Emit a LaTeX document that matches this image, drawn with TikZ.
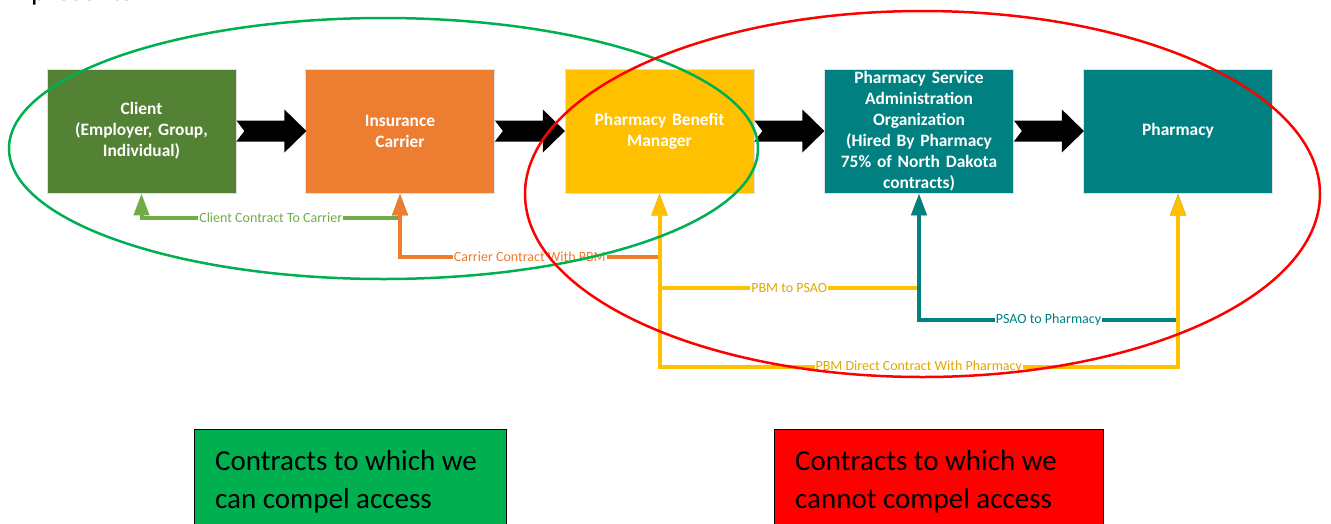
\documentclass[tikz,border=0pt]{standalone}
\usepackage{fontspec}
\setmainfont{Carlito}
\usetikzlibrary{arrows.meta}
\definecolor{cgreen}{HTML}{548235}
\definecolor{corange}{HTML}{ED7D31}
\definecolor{cgold}{HTML}{FFC000}
\definecolor{cteal}{HTML}{008080}
\definecolor{lgreen}{HTML}{70AD47}
\definecolor{egreen}{HTML}{00B050}
\definecolor{ered}{HTML}{FF0000}
\tikzset{
  ent/.style={minimum width=189pt, minimum height=124pt, inner sep=0pt, text width=182pt,
    align=center, text=white, draw=black!12, line width=0.8pt,
    font=\fontsize{17.4}{21}\selectfont\bfseries},
  conn/.style={line width=4pt, {Triangle[width=15pt,length=22pt]}-{Triangle[width=15pt,length=22pt]}},
  lbl/.style={fill=white, inner xsep=1pt, inner ysep=0pt, font=\fontsize{14}{14}\selectfont},
  ell/.style={line width=2.5pt},
  legbox/.style={draw=black, line width=1.2pt, anchor=north west, minimum width=312pt, minimum height=111pt, inner sep=0pt},
  legtext/.style={anchor=base west, inner sep=0pt, font=\fontsize{29}{38}\selectfont},
  barrow/.pic={\fill[black] (0,-10.5) -- (48,-10.5) -- (48,-21.5) -- (70,0) -- (48,21.5) -- (48,10.5) -- (0,10.5) -- (8,0) -- cycle;}
}
\begin{document}
\begin{tikzpicture}[x=1pt,y=-1pt]
\useasboundingbox (0,0) rectangle (1331,523);
\clip (0,0) rectangle (1331,523);
\fill[white] (0,0) rectangle (1331,523);

% cut-off heading text
\node[anchor=base west, inner sep=0pt, font=\fontsize{29}{38}\selectfont] (head) at (31,0.5) {presents};

% entity boxes
\node[ent, fill=cgreen] (client) at (141.5,131) {Client\\(Employer, Group,\\Individual)};
\node[ent, fill=corange] (carrier) at (400,131) {Insurance\\Carrier};
\node[ent, fill=cgold] (pbm) at (659.5,131) {Pharmacy Benefit\\Manager};
\node[ent, fill=cteal] (psao) at (919,131) {Pharmacy Service\\Administration\\Organization\\(Hired By Pharmacy\\75\% of North Dakota\\contracts)};
\node[ent, fill=cteal] (pharm) at (1178,131) {Pharmacy};

% block arrows
\pic at (client.east) {barrow};
\pic at (carrier.east) {barrow};
\pic at (pbm.east) {barrow};
\pic at (psao.east) {barrow};

% connector rows
\coordinate (yg) at (0,218);
\coordinate (yo) at (0,257);
\coordinate (yp) at (0,288);
\coordinate (yt) at (0,320);
\coordinate (yd) at (0,367);

\draw[conn, lgreen] (carrier.south) -- (carrier.south |- yg)
  -- node[lbl, text=lgreen] {Client Contract To Carrier} (client.south |- yg) -- (client.south);
\draw[conn, corange] (pbm.south) -- (pbm.south |- yo)
  -- node[lbl, text=corange] {Carrier Contract With PBM} (carrier.south |- yo) -- (carrier.south);
\draw[conn, cgold] (pbm.south) -- (pbm.south |- yp)
  -- node[lbl, text=cgold!88!black] {PBM to PSAO} (psao.south |- yp) -- (psao.south);
\draw[conn, cteal] (pharm.south) -- (pharm.south |- yt)
  -- node[lbl, text=cteal] {PSAO to Pharmacy} (psao.south |- yt) -- (psao.south);
\draw[conn, cgold] (pbm.south) -- (pbm.south |- yd)
  -- node[lbl, text=cgold!88!black] {PBM Direct Contract With Pharmacy} (pharm.south |- yd) -- (pharm.south);

% grouping ellipses
\draw[ell, egreen] (383.5,148.5) ellipse [x radius=374.5pt, y radius=130.5pt];
\draw[ell, ered] (922.5,194) ellipse [x radius=397.5pt, y radius=183pt];

% legend
\node[legbox, fill=egreen] (lg) at (194,429) {};
\node[legtext] (lg1) at (215,470) {Contracts to which we};
\node[legtext] (lg2) at (215,508) {can compel access};
\node[legbox, fill=ered, minimum width=329pt] (lr) at (774,429) {};
\node[legtext] (lr1) at (795,470) {Contracts to which we};
\node[legtext] (lr2) at (795,508) {cannot compel access};
\end{tikzpicture}
\end{document}
